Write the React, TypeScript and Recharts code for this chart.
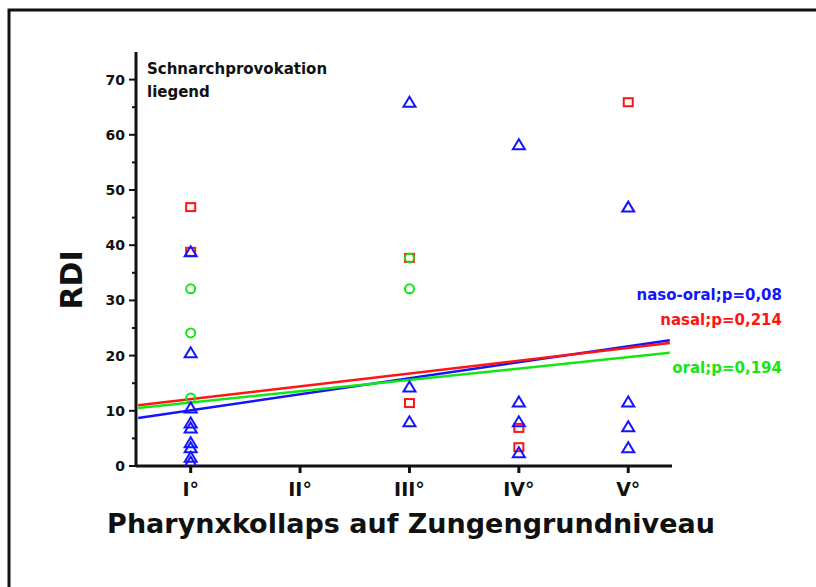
import React from 'react';
import { ScatterChart, Scatter, XAxis, YAxis } from 'recharts';

// Grade of pharyngeal collapse at tongue-base level (x) vs. RDI (y)
const grades = ['I°', 'II°', 'III°', 'IV°', 'V°'];
const gradeTicks = [1, 2, 3, 4, 5];
const rdiTicks = [0, 5, 10, 15, 20, 25, 30, 35, 40, 45, 50, 55, 60, 65, 70];

const nasalGrade = [1, 1, 3, 3, 4, 4, 5];
const nasalRdi = [46.9, 38.8, 37.7, 11.4, 6.9, 3.4, 65.9];

const oralGrade = [1, 1, 1, 3, 3];
const oralRdi = [32.1, 24.1, 12.3, 37.7, 32.1];

const nasoOralGrade = [1, 1, 1, 1, 1, 1, 1, 1, 1, 3, 3, 3, 4, 4, 4, 4, 5, 5, 5, 5];
const nasoOralRdi = [
  38.8, 20.5, 10.5, 7.8, 6.9, 4.2, 3.3, 1.6, 0.7,
  65.9, 14.3, 8.0,
  58.2, 11.6, 8.0, 2.4,
  46.9, 11.6, 7.1, 3.3,
];

// linear fits, end points at the edges of the x range
const fitGrade = [0.52, 5.38];
const nasalFit = [11.0, 22.3];
const oralFit = [10.5, 20.5];
const nasoOralFit = [8.7, 22.8];

const RED = '#ff1414';
const GREEN = '#14e614';
const BLUE = '#1414ff';
const FONT = '"DejaVu Sans", Arial, sans-serif';

const zip = (xs: number[], ys: number[]) => xs.map((x, i) => ({ grade: x, rdi: ys[i] }));

const Square = ({ cx, cy }: any) => (
  <rect x={cx - 4.5} y={cy - 4} width={9} height={8} fill="none" stroke={RED} strokeWidth={2} />
);
const Ring = ({ cx, cy }: any) => (
  <circle cx={cx} cy={cy} r={4.5} fill="none" stroke={GREEN} strokeWidth={2} />
);
const Tri = ({ cx, cy }: any) => (
  <polygon
    points={`${cx},${cy - 5.5} ${cx - 6},${cy + 4.5} ${cx + 6},${cy + 4.5}`}
    fill="none"
    stroke={BLUE}
    strokeWidth={2}
  />
);
const NoDot = () => <g />;

const YTick = ({ x, y, payload }: any) => {
  const v = payload.value;
  const major = v % 10 === 0;
  return (
    <g>
      <line x1={x - (major ? 7 : 4)} x2={x} y1={y} y2={y} stroke="#111" strokeWidth={2} />
      {major && (
        <text x={x - 11} y={y} dy="0.36em" textAnchor="end" fontFamily={FONT} fontWeight="bold" fontSize={14} fill="#111">
          {v}
        </text>
      )}
    </g>
  );
};

export default function App() {
  return (
    <div style={{ position: 'absolute', left: 0, top: 0, width: 816, height: 587, background: '#fff' }}>
      <ScatterChart width={816} height={587} margin={{ top: 52, right: 144, bottom: 81, left: 76 }}>
        <XAxis
          type="number"
          dataKey="grade"
          domain={[0.5, 5.4]}
          allowDataOverflow
          ticks={gradeTicks}
          tickFormatter={(v: number) => grades[v - 1]}
          height={40}
          stroke="#111"
          strokeWidth={3}
          tickSize={7}
          tickMargin={10}
          tick={{ fill: '#111', fontFamily: FONT, fontWeight: 'bold', fontSize: 19 }}
        />
        <YAxis
          type="number"
          dataKey="rdi"
          domain={[0, 75]}
          allowDataOverflow
          ticks={rdiTicks}
          interval={0}
          width={60}
          stroke="#111"
          strokeWidth={3}
          tickLine={false}
          tickSize={0}
          tickMargin={0}
          tick={<YTick />}
        />
        <Scatter data={zip(fitGrade, nasoOralFit)} line={{ stroke: BLUE, strokeWidth: 2.5 }} shape={NoDot} isAnimationActive={false} />
        <Scatter data={zip(fitGrade, nasalFit)} line={{ stroke: RED, strokeWidth: 2.5 }} shape={NoDot} isAnimationActive={false} />
        <Scatter data={zip(fitGrade, oralFit)} line={{ stroke: GREEN, strokeWidth: 2.5 }} shape={NoDot} isAnimationActive={false} />
        <Scatter data={zip(nasalGrade, nasalRdi)} shape={Square} isAnimationActive={false} />
        <Scatter data={zip(oralGrade, oralRdi)} shape={Ring} isAnimationActive={false} />
        <Scatter data={zip(nasoOralGrade, nasoOralRdi)} shape={Tri} isAnimationActive={false} />
      </ScatterChart>
      <svg
        width={816}
        height={587}
        style={{ position: 'absolute', left: 0, top: 0, pointerEvents: 'none' }}
        fontFamily={FONT}
        fontWeight="bold"
      >
        <polyline points="9,587 9,10 816,10" fill="none" stroke="#111" strokeWidth={3} />
        <text x={147} y={74} fontSize={15} fill="#111">Schnarchprovokation</text>
        <text x={147} y={97} fontSize={15} fill="#111">liegend</text>
        <text x={782} y={300} fontSize={15} textAnchor="end" fill={BLUE}>naso-oral;p=0,08</text>
        <text x={782} y={325} fontSize={15} textAnchor="end" fill={RED}>nasal;p=0,214</text>
        <text x={782} y={373} fontSize={15} textAnchor="end" fill={GREEN}>oral;p=0,194</text>
        <text x={82} y={280} fontSize={30} textAnchor="middle" fill="#111" transform="rotate(-90 82 280)">RDI</text>
        <text x={411} y={533} fontSize={27} textAnchor="middle" fill="#111">Pharynxkollaps auf Zungengrundniveau</text>
      </svg>
    </div>
  );
}
